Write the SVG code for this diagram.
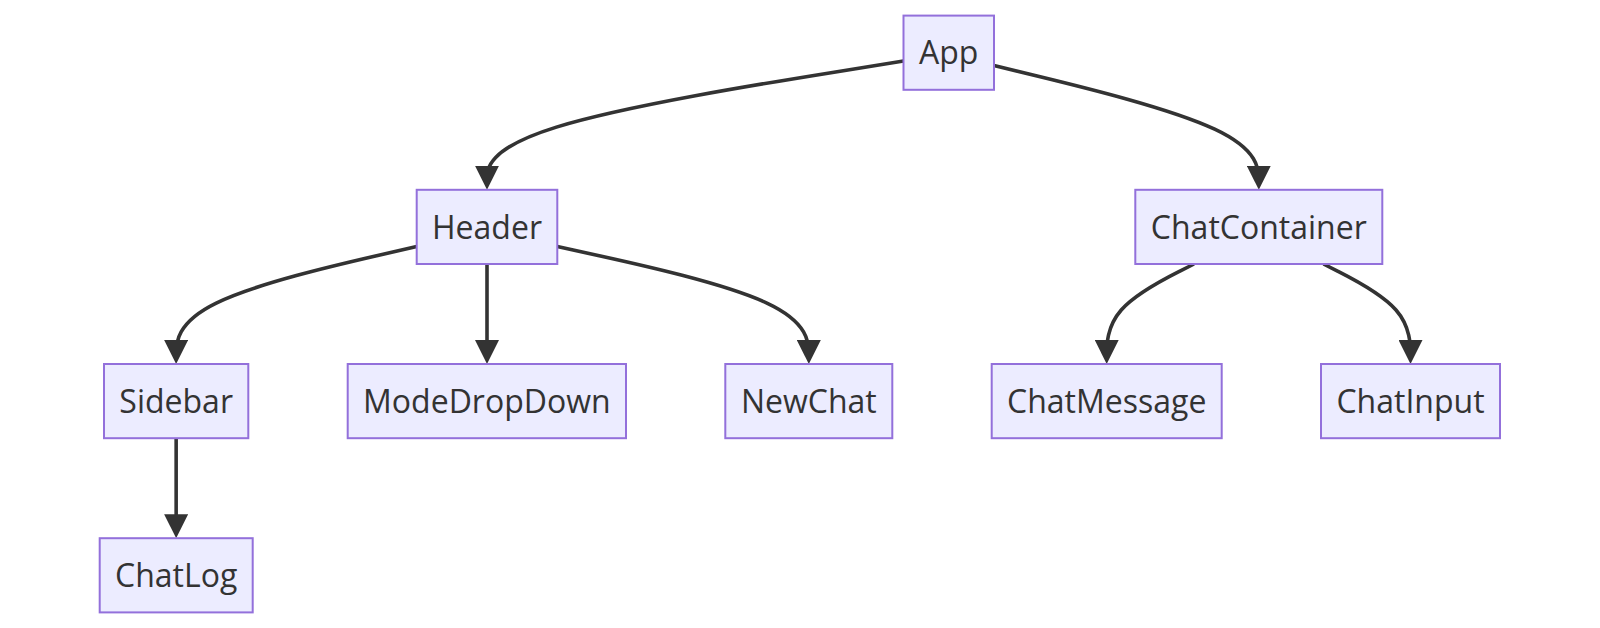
<svg xmlns="http://www.w3.org/2000/svg" width="1600" height="628" viewBox="0 0 1600 628">
<defs>
<style>
.node rect{fill:#ECECFF;stroke:#9370DB;stroke-width:2}
.node text{font-family:"Open Sans","Noto Sans",sans-serif;font-size:32px;fill:#333;text-anchor:middle}
.edge{fill:none;stroke:#333;stroke-width:3.6;marker-end:url(#arrow)}
</style>
<marker id="arrow" markerUnits="userSpaceOnUse" markerWidth="24" markerHeight="24" refX="19" refY="12" orient="auto" viewBox="0 0 24 24">
<path d="M0,0 L24,12 L0,24 z" fill="#333"/>
</marker>
</defs>
<rect width="1600" height="628" fill="#fff"/>
<g id="connectors">
<path class="edge" d="M903.5,61 L834.08,72.17 C764.67,83.33 625.83,105.67 556.42,127.13 C487,148.6 487,169.2 487,179.5 L487,184.8"/>
<path class="edge" d="M994,65.5 L1038.13,76.25 C1082.27,87 1170.53,108.5 1214.67,129.22 C1258.8,149.93 1258.8,169.87 1258.8,179.83 L1258.8,184.8"/>
<path class="edge" d="M416.7,246.5 L376.61,255.75 C336.52,265 256.33,283.5 216.24,303.08 C176.15,322.67 176.15,343.33 176.15,353.67 L176.15,359"/>
<path class="edge" d="M487,264 L487,359"/>
<path class="edge" d="M557.3,246.5 L599.22,255.75 C641.13,265 724.97,283.5 766.88,303.08 C808.8,322.67 808.8,343.33 808.8,353.67 L808.8,359"/>
<path class="edge" d="M1194,264 L1179.45,271.33 C1164.9,278.67 1135.8,293.33 1121.25,310 C1106.7,326.67 1106.7,345.33 1106.7,354.67 L1106.7,359"/>
<path class="edge" d="M1323.5,264 L1338,271.33 C1352.5,278.67 1381.5,293.33 1396,310 C1410.5,326.67 1410.5,345.33 1410.5,354.67 L1410.5,359"/>
<path class="edge" d="M176.15,438.2 L176.15,533.2"/>
</g>
<g id="App" class="node"><rect x="903.5" y="15.6" width="90.5" height="74.2"/><text x="948.75" y="64.4">App</text></g>
<g id="Header" class="node"><rect x="416.7" y="189.8" width="140.6" height="74.2"/><text x="487" y="238.6">Header</text></g>
<g id="ChatContainer" class="node"><rect x="1135.3" y="189.8" width="247" height="74.2"/><text x="1258.8" y="238.6">ChatContainer</text></g>
<g id="Sidebar" class="node"><rect x="104" y="364" width="144.3" height="74.2"/><text x="176.15" y="412.8">Sidebar</text></g>
<g id="ModeDropDown" class="node"><rect x="347.7" y="364" width="278.3" height="74.2"/><text x="486.85" y="412.8">ModeDropDown</text></g>
<g id="NewChat" class="node"><rect x="725.3" y="364" width="167" height="74.2"/><text x="808.8" y="412.8">NewChat</text></g>
<g id="ChatMessage" class="node"><rect x="991.7" y="364" width="230" height="74.2"/><text x="1106.7" y="412.8">ChatMessage</text></g>
<g id="ChatInput" class="node"><rect x="1321" y="364" width="179" height="74.2"/><text x="1410.5" y="412.8">ChatInput</text></g>
<g id="ChatLog" class="node"><rect x="99.7" y="538.2" width="153" height="74.2"/><text x="176.2" y="587">ChatLog</text></g>
</svg>
